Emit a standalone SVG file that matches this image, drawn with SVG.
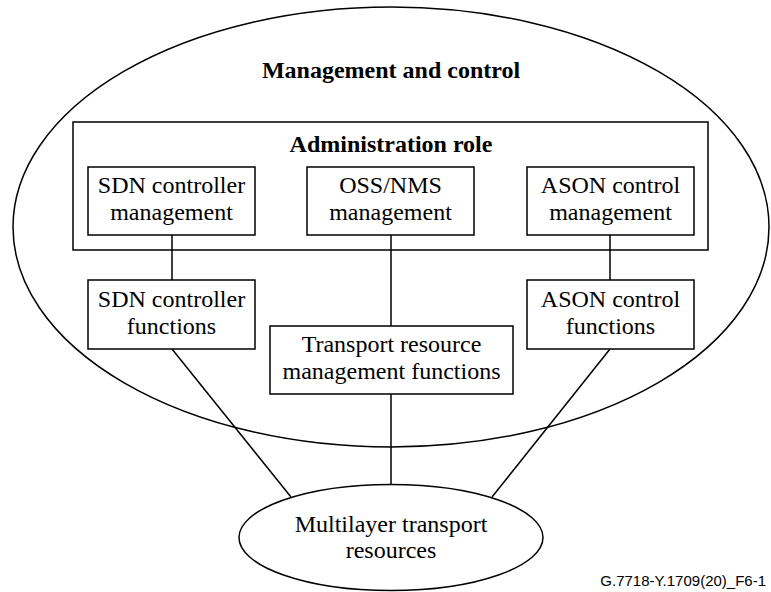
<svg xmlns="http://www.w3.org/2000/svg" width="771" height="592" viewBox="0 0 771 592">
<style>
.s{fill:none;stroke:#000;stroke-width:1.5}
.b{fill:#fff;stroke:#000;stroke-width:1.5}
.t{font-family:'Liberation Serif','Times New Roman',Tinos,'Noto Serif','DejaVu Serif',serif;font-size:24px;fill:#000;text-anchor:middle}
.tb{font-weight:bold}
.f{font-family:'Liberation Sans',Arial,sans-serif;font-size:15px;fill:#000;text-anchor:end}
</style>
<rect width="771" height="592" fill="#fff"/>
<g id="mgmt-control">
<ellipse class="s" cx="391" cy="227" rx="378" ry="220"/>
<text class="t tb" x="391" y="78" font-family="Liberation Serif, serif">Management and control</text>
</g>
<g id="admin-role">
<rect class="s" x="73" y="122" width="635" height="128"/>
<text class="t tb" x="391" y="152">Administration role</text>
</g>
<g id="connectors">
<line class="s" x1="172" y1="235" x2="172" y2="280"/>
<line class="s" x1="391" y1="235" x2="391" y2="326"/>
<line class="s" x1="610" y1="235" x2="610" y2="280"/>
<line class="s" x1="391" y1="394" x2="391" y2="484"/>
<line class="s" x1="172" y1="349" x2="291" y2="497"/>
<line class="s" x1="610" y1="349" x2="492" y2="497"/>
</g>
<g id="sdn-mgmt">
<rect class="b" x="88" y="167" width="167" height="68"/>
<text class="t" x="171.5" y="193">SDN controller</text>
<text class="t" x="171.5" y="220">management</text>
</g>
<g id="oss-nms-mgmt">
<rect class="b" x="307" y="167" width="167" height="68"/>
<text class="t" x="390.5" y="193">OSS/NMS</text>
<text class="t" x="390.5" y="220">management</text>
</g>
<g id="ason-mgmt">
<rect class="b" x="527" y="167" width="167" height="68"/>
<text class="t" x="610.5" y="193">ASON control</text>
<text class="t" x="610.5" y="220">management</text>
</g>
<g id="sdn-functions">
<rect class="b" x="88" y="280" width="167" height="69"/>
<text class="t" x="171.5" y="307">SDN controller</text>
<text class="t" x="171.5" y="334">functions</text>
</g>
<g id="ason-functions">
<rect class="b" x="527" y="280" width="167" height="69"/>
<text class="t" x="610.5" y="307">ASON control</text>
<text class="t" x="610.5" y="334">functions</text>
</g>
<g id="transport-mgmt">
<rect class="b" x="270" y="326" width="243" height="68"/>
<text class="t" x="391.5" y="352">Transport resource</text>
<text class="t" x="391.5" y="379">management functions</text>
</g>
<g id="multilayer">
<ellipse class="b" cx="391" cy="537.5" rx="152" ry="53"/>
<text class="t" x="391" y="532">Multilayer transport</text>
<text class="t" x="391" y="558">resources</text>
</g>
<text class="f" x="766" y="586">G.7718-Y.1709(20)_F6-1</text>
</svg>
